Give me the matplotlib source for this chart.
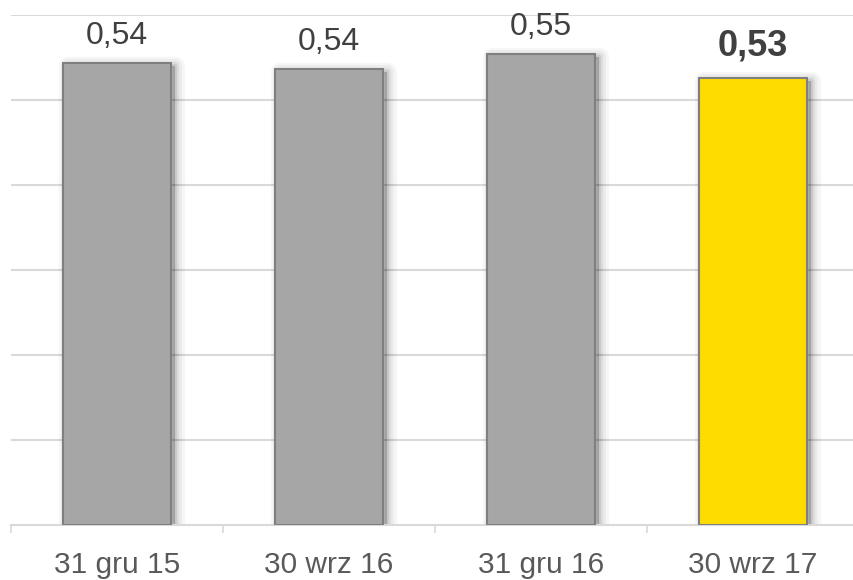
import matplotlib
matplotlib.use("Agg")
import matplotlib.pyplot as plt
from matplotlib.transforms import ScaledTranslation

categories = ["31 gru 15", "30 wrz 16", "31 gru 16", "30 wrz 17"]
values = [0.543, 0.536, 0.554, 0.5255]
labels = ["0,54", "0,54", "0,55", "0,53"]
bar_colors = ["#A6A6A6", "#A6A6A6", "#A6A6A6", "#FFDC00"]
label_bold = [False, False, False, True]

plt.rcParams['font.family'] = ['Liberation Sans', 'DejaVu Sans']

W, H = 854, 580
fig = plt.figure(figsize=(W / 100, H / 100), dpi=100)
ax = fig.add_axes([11 / W, (H - 525) / H, 848 / W, (525 - 15) / H])

x = list(range(len(categories)))
width = 0.505

# soft shadow
off = ax.transData + ScaledTranslation(3 / 72, -2 / 72, fig.dpi_scale_trans)
for lw, a in [(14, 0.035), (10, 0.045), (6, 0.06), (3, 0.08)]:
    ax.bar(x, values, width, color="black", edgecolor="black", linewidth=lw,
           alpha=a, transform=off, zorder=2, joinstyle="round")

bars = ax.bar(x, values, width, color=bar_colors, edgecolor="#7F7F7F",
              linewidth=1.5, zorder=3)

for xi, v, lab, b in zip(x, values, labels, label_bold):
    ax.annotate(lab, (xi, v), xytext=(0, 9 if not b else 10.5),
                textcoords="offset points", ha="center", va="bottom",
                fontsize=23 if not b else 26,
                fontweight="bold" if b else "normal", color="#404040")

ax.set_xlim(-0.5, len(categories) - 0.5)
ax.set_ylim(0, 0.6)
ax.set_yticks([0.1 * i for i in range(1, 7)])
ax.yaxis.grid(True, color="#D9D9D9", linewidth=1.5, zorder=0)
ax.set_axisbelow(True)
ax.tick_params(axis="y", left=False, labelleft=False)

ax.set_xticks(x)
ax.set_xticklabels(categories, fontsize=21.5, color="#595959")
ax.tick_params(axis="x", which="major", length=0, pad=19)
ax.set_xticks([i - 0.5 for i in range(len(categories) + 1)], minor=True)
ax.tick_params(axis="x", which="minor", length=6, width=1.2, color="#D9D9D9")

for s in ["top", "right", "left"]:
    ax.spines[s].set_visible(False)
ax.spines["bottom"].set_color("#D9D9D9")
ax.spines["bottom"].set_linewidth(1.5)

fig.savefig("out.png", dpi=100)
